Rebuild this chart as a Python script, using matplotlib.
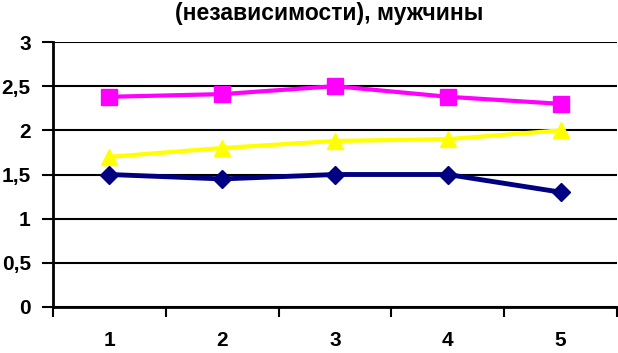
import numpy as np
from matplotlib import pyplot as plt

plt.rcParams['font.family'] = ['Liberation Sans', 'DejaVu Sans']

cats = ['1', '2', '3', '4', '5']
pink = [2.38, 2.41, 2.5, 2.38, 2.3]
yellow = [1.7, 1.8, 1.88, 1.9, 2.0]
navy = [1.5, 1.45, 1.5, 1.5, 1.3]
y_ticks = [0, 0.5, 1, 1.5, 2, 2.5, 3]
y_labels = ['0', '0,5', '1', '1,5', '2', '2,5', '3']

fig = plt.figure(figsize=(6.18, 3.53), dpi=100)
ax = fig.add_axes([53 / 618, 1 - 307 / 353, 564 / 618, 265 / 353])

x = np.arange(1, len(cats) + 1)
ax.plot(x, pink, color='#FF00FF', lw=3, marker='s', ms=11.5, zorder=3)
ax.plot(x, yellow, color='#FFFF00', lw=3, marker='^', ms=11, zorder=3)
ax.plot(x, navy, color='#000080', lw=3.5, marker='D', ms=9, zorder=4)

ax.set_ylim(0, 3)
ax.set_xlim(0.5, len(cats) + 0.5)
ax.set_yticks(y_ticks)
ax.set_yticklabels(y_labels, fontsize=15, fontweight='bold')
ax.set_xticks(np.arange(0.5, len(cats) + 1))
ax.set_xticklabels([])
ax.set_xticks(x, minor=True)
ax.set_xticklabels(cats, minor=True, fontsize=15, fontweight='bold')
ax.tick_params(axis='x', which='minor', length=0, pad=17)
ax.tick_params(axis='x', which='major', length=7, width=1.5, direction='out')
ax.tick_params(axis='y', length=8, width=1.5, pad=8)

ax.grid(axis='y', color='black', lw=1.5, zorder=1)
for s in ['top', 'right']:
    ax.spines[s].set_visible(False)
for s in ['left', 'bottom']:
    ax.spines[s].set_linewidth(2)

fig.text(0.532, 0.962, '(независимости), мужчины', ha='center', va='center',
         fontsize=16.5, fontweight='bold')

plt.savefig('out.png', dpi=100)
